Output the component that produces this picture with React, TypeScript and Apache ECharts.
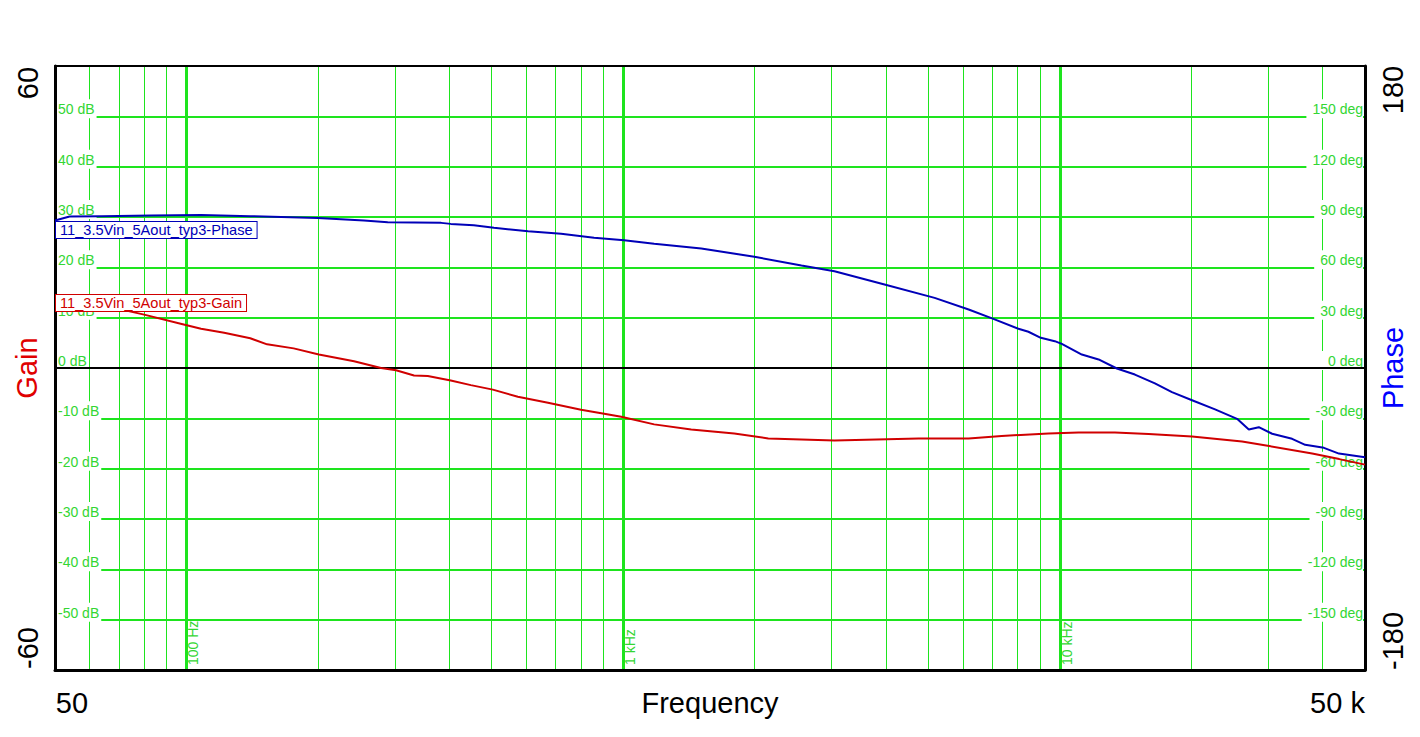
import React, { useEffect, useRef } from 'react';
import * as echarts from 'echarts';

// ---------- data ----------
const GAIN_NAME = '11_3.5Vin_5Aout_typ3-Gain';
const PHASE_NAME = '11_3.5Vin_5Aout_typ3-Phase';

const GAIN_FREQ = [
  50, 56, 72, 80, 97, 108, 122, 140, 153, 176, 201, 242, 279, 302, 332, 357, 403, 448, 503, 574,
  673, 801, 905, 990, 1178, 1432, 1797, 2150, 3048, 4749, 6184, 7362, 9420, 11040, 13370, 15975,
  20085, 26150, 30165, 37844, 43650, 50000,
];
const GAIN_DB = [
  11.8, 11.6, 11.5, 10.6, 8.8, 7.8, 7.0, 5.9, 4.7, 3.9, 2.7, 1.35, 0.0, -0.45, -1.5, -1.6, -2.5, -3.4, -4.3, -5.7,
  -6.9, -8.3, -9.1, -9.7, -11.2, -12.2, -13.0, -14.0, -14.4, -14.0, -14.0, -13.5, -13.0, -12.8, -12.8, -13.1,
  -13.6, -14.6, -15.5, -17.0, -18.1, -19.2,
];

const PHASE_FREQ = [
  50, 54, 64, 83, 108, 140, 200, 255, 289, 383, 403, 455, 506, 606, 721, 858, 1005, 1178, 1510, 1998,
  2561, 3048, 3969, 5169, 6184, 7045, 8040, 8476, 9047, 9739, 10106, 11232, 12270, 13513, 14859, 16515,
  18066, 20085, 22677, 25468, 27092, 28563, 30641, 34041, 36475, 40264, 43580, 50000,
];
const PHASE_DEG = [
  87.9, 90.3, 90.5, 90.9, 91.2, 90.5, 89.4, 87.9, 86.9, 86.5, 85.9, 85.1, 83.6, 81.5, 80.0, 77.6, 76.2, 74.0, 71.2, 66.3,
  61.1, 57.7, 49.8, 41.8, 34.9, 29.3, 23.4, 21.6, 18.0, 16.0, 14.4, 8.0, 5.1, -0.3, -3.9, -9.2,
  -14.4, -19.2, -24.7, -30.3, -36.7, -35.3, -39.2, -42.2, -45.8, -47.6, -51.0, -53.2,
];

const MINOR_FREQS = [
  60, 70, 80, 90, 200, 300, 400, 500, 600, 700, 800, 900,
  2000, 3000, 4000, 5000, 6000, 7000, 8000, 9000, 20000, 30000, 40000,
];
const DECADE_FREQS = [100, 1000, 10000];
const DECADE_LABELS = ['100 Hz', '1 kHz', '10 kHz'];
const FREQ_MIN = 50;
const FREQ_MAX = 50000;
const FREQ_END_LABELS = ['50', '50 k'];

const GAIN_MIN = -60;
const GAIN_MAX = 60;
const GAIN_STEP = 10;
const PHASE_MIN = -180;
const PHASE_MAX = 180;
const PHASE_STEP = 30;

// ---------- styles ----------
const FONT = 'Arial, "Liberation Sans", sans-serif';
const GREEN = '#1ee41e';
const GREEN_TEXT = '#33d633';
const RED = '#d00000';
const BLUE = '#0000b8';

function buildOption(): any {
  const frameLine = (w: number) => ({ show: true, onZero: false, lineStyle: { color: '#000', width: w } });
  const noTick = { show: false };
  const noSplit = { show: false };

  const innerRich = (color: string, pad: number[]) => ({
    a: { color, fontSize: 14, fontFamily: FONT, height: 14, backgroundColor: '#fff', padding: pad },
    b: { fontSize: 14, fontFamily: FONT, lineHeight: 15, color: 'rgba(0,0,0,0)' },
  });

  const big = { fontSize: 29, fontFamily: FONT, color: '#000' };

  const legendText = (color: string) => ({
    color,
    fontSize: 14.6,
    fontFamily: FONT,
    backgroundColor: '#fff',
    borderColor: color,
    borderWidth: 1,
    padding: [0, 4, 1, 4],
  });

  return {
    animation: false,
    backgroundColor: '#fff',
    textStyle: { fontFamily: FONT },
    grid: { left: 55, right: 55, top: 66, bottom: 67, containLabel: false },
    legend: [
      {
        data: [PHASE_NAME], left: 51, top: 221, padding: 0, icon: 'none', itemWidth: 0, itemHeight: 14,
        selectedMode: false, z: 4, textStyle: legendText(BLUE),
      },
      {
        data: [GAIN_NAME], left: 51, top: 294, padding: 0, icon: 'none', itemWidth: 0, itemHeight: 14,
        selectedMode: false, z: 4, textStyle: legendText(RED),
      },
    ],
    xAxis: [
      {
        type: 'log', logBase: 10, min: FREQ_MIN, max: FREQ_MAX, position: 'bottom', z: 2,
        axisLine: frameLine(3), axisTick: noTick, splitLine: noSplit,
        axisLabel: {
          inside: true, rotate: 90, margin: 5, align: 'left', verticalAlign: 'top',
          color: GREEN_TEXT, fontSize: 14, fontFamily: FONT,
          showMinLabel: false, showMaxLabel: false,
          formatter: (v: number) => {
            const i = DECADE_FREQS.findIndex((d) => Math.abs(d - v) < 1e-6 * d);
            return i >= 0 ? DECADE_LABELS[i] : '';
          },
        },
        name: 'Frequency', nameLocation: 'middle', nameGap: 18,
        nameTextStyle: { ...big },
      },
      {
        type: 'log', logBase: 10, min: FREQ_MIN, max: FREQ_MAX, position: 'bottom', z: 2,
        axisLine: { show: false, onZero: false }, axisTick: noTick, splitLine: noSplit,
        axisLabel: {
          margin: 18, showMinLabel: true, showMaxLabel: true,
          formatter: (v: number) =>
            v < FREQ_MIN * 1.05 ? `{l|${FREQ_END_LABELS[0]}}` : v > FREQ_MAX * 0.95 ? `{r|${FREQ_END_LABELS[1]}}` : '',
          rich: {
            l: { ...big, padding: [0, 0, 0, 34] },
            r: { ...big, padding: [0, 55, 0, 0] },
          },
        },
      },
      {
        type: 'log', logBase: 10, min: FREQ_MIN, max: FREQ_MAX, position: 'top', z: 2,
        axisLine: frameLine(2), axisTick: noTick, splitLine: noSplit, axisLabel: { show: false },
      },
    ],
    yAxis: [
      {
        type: 'value', min: GAIN_MIN, max: GAIN_MAX, interval: GAIN_STEP, position: 'left', z: 1,
        axisLine: frameLine(3), axisTick: noTick, axisLabel: { show: false },
        splitLine: { show: true, lineStyle: { color: GREEN, width: 2 } },
        name: 'Gain', nameLocation: 'middle', nameGap: 14, nameRotate: 90,
        nameTextStyle: { fontSize: 29, fontFamily: FONT, color: '#e00000' },
      },
      {
        type: 'value', min: PHASE_MIN, max: PHASE_MAX, interval: PHASE_STEP, position: 'right', z: 1,
        axisLine: frameLine(3), axisTick: noTick, axisLabel: { show: false }, splitLine: noSplit,
        name: 'Phase', nameLocation: 'middle', nameGap: 13, nameRotate: 90,
        nameTextStyle: { fontSize: 29, fontFamily: FONT, color: '#0000ff' },
      },
      {
        type: 'value', min: GAIN_MIN, max: GAIN_MAX, interval: GAIN_STEP, position: 'left', z: 2,
        axisLine: { show: false, onZero: false }, axisTick: noTick, splitLine: noSplit,
        axisLabel: {
          inside: true, margin: 2, showMinLabel: false, showMaxLabel: false,
          formatter: (v: number) => `{a|${v} dB}\n{b| }`,
          rich: innerRich(GREEN_TEXT, [3, 2, 2, 1]),
        },
      },
      {
        type: 'value', min: PHASE_MIN, max: PHASE_MAX, interval: PHASE_STEP, position: 'right', z: 2,
        axisLine: { show: false, onZero: false }, axisTick: noTick, splitLine: noSplit,
        axisLabel: {
          inside: true, margin: 2, showMinLabel: false, showMaxLabel: false,
          formatter: (v: number) => `{a|${v} deg}\n{b| }`,
          rich: innerRich(GREEN_TEXT, [3, 0, 2, 6]),
        },
      },
      {
        type: 'value', min: GAIN_MIN, max: GAIN_MAX, interval: GAIN_MAX, position: 'left', z: 2,
        axisLine: { show: false, onZero: false }, axisTick: noTick, splitLine: noSplit,
        axisLabel: {
          rotate: 90, margin: 13, showMinLabel: true, showMaxLabel: true,
          formatter: (v: number) => (v > 0 ? `{hi|${v}}` : v < 0 ? `{lo|${v}}` : ''),
          rich: {
            hi: { ...big, padding: [0, 34, 0, 0] },
            lo: { ...big, padding: [0, 0, 0, 44] },
          },
        },
      },
      {
        type: 'value', min: PHASE_MIN, max: PHASE_MAX, interval: PHASE_MAX, position: 'right', z: 2,
        axisLine: { show: false, onZero: false }, axisTick: noTick, splitLine: noSplit,
        axisLabel: {
          rotate: 90, margin: 13, showMinLabel: true, showMaxLabel: true,
          formatter: (v: number) => (v > 0 ? `{hi|${v}}` : v < 0 ? `{lo|${v}}` : ''),
          rich: {
            hi: { ...big, padding: [0, 48, 0, 0] },
            lo: { ...big, padding: [0, 0, 0, 58] },
          },
        },
      },
    ],
    series: [
      {
        name: 'grid', type: 'line', xAxisIndex: 0, yAxisIndex: 0, data: [[1000, 0]],
        symbol: 'none', silent: true, z: 1, lineStyle: { opacity: 0 },
        markLine: {
          silent: true, symbol: 'none', z: 1, animation: false,
          label: { show: false },
          lineStyle: { type: 'solid', color: GREEN, width: 1 },
          emphasis: { disabled: true },
          data: [
            ...MINOR_FREQS.map((f) => ({ xAxis: f, lineStyle: { type: 'solid', color: GREEN, width: 1 } })),
            ...DECADE_FREQS.map((f) => ({ xAxis: f, lineStyle: { type: 'solid', color: GREEN, width: 3 } })),
          ],
        },
      },
      {
        name: GAIN_NAME, type: 'line', xAxisIndex: 0, yAxisIndex: 0,
        data: GAIN_FREQ.map((f, i) => [f, GAIN_DB[i]]),
        symbol: 'none', showSymbol: false, z: 3,
        lineStyle: { color: RED, width: 2 }, itemStyle: { color: RED },
        markLine: {
          silent: true, symbol: 'none', z: 2.5, animation: false,
          label: { show: false },
          lineStyle: { type: 'solid', color: '#000', width: 2 },
          emphasis: { disabled: true },
          data: [{ yAxis: 0 }],
        },
      },
      {
        name: PHASE_NAME, type: 'line', xAxisIndex: 0, yAxisIndex: 1,
        data: PHASE_FREQ.map((f, i) => [f, PHASE_DEG[i]]),
        symbol: 'none', showSymbol: false, z: 3,
        lineStyle: { color: BLUE, width: 2 }, itemStyle: { color: BLUE },
      },
    ],
  };
}

export default function App() {
  const ref = useRef<HTMLDivElement>(null);
  useEffect(() => {
    if (!ref.current) return;
    const chart = echarts.init(ref.current, null, { renderer: 'svg' });
    chart.setOption(buildOption());
    return () => {
      chart.dispose();
    };
  }, []);
  return (
    <div
      ref={ref}
      style={{ position: 'fixed', left: 0, top: 0, width: 1420, height: 737, background: '#fff' }}
    />
  );
}
